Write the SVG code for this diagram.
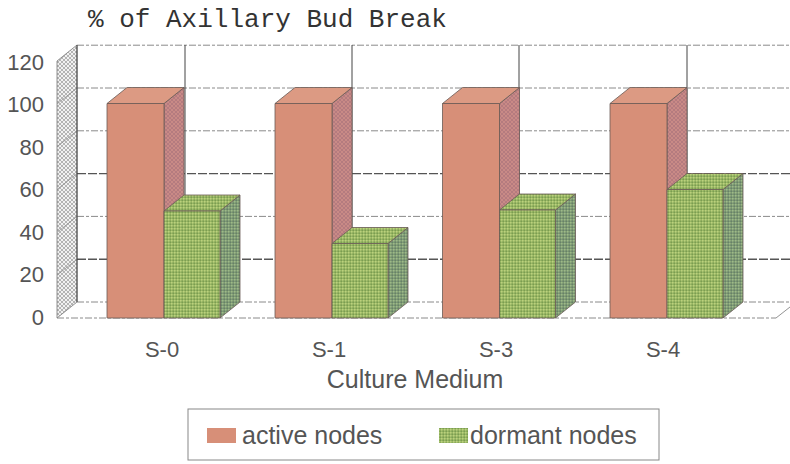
<svg xmlns="http://www.w3.org/2000/svg" width="790" height="464" viewBox="0 0 790 464">
  <style>
    .title { font-family: "Liberation Mono", "Courier New", monospace; font-size: 26px; fill: #333; }
    .lbl { font-family: "Liberation Sans", Arial, sans-serif; font-size: 22px; fill: #555; }
    .axt { font-family: "Liberation Sans", Arial, sans-serif; font-size: 25px; fill: #555; }
    .grid { stroke: #8a8a8a; stroke-width: 1; stroke-dasharray: 7 2 3 2; fill: none; }
    .grid-dark { stroke: #555; stroke-width: 1.4; stroke-dasharray: 9 2; fill: none; }
    .vgrid { stroke: #444; stroke-width: 1; fill: none; }
    .edge { stroke: #6a5a55; stroke-width: 0.8; stroke-linejoin: round; }
    .act-front { fill: #d78f78; }
    .act-top { fill: #dc9a83; }
    .act-side { fill: url(#pinkHatch); }
    .dor-front { fill: url(#greenHatch); }
    .dor-top { fill: url(#greenHatch); }
    .dor-side { fill: url(#greenSideHatch); }
  </style>
  <defs>
    <pattern id="wallHatch" width="4" height="4" patternUnits="userSpaceOnUse">
      <rect width="4" height="4" fill="#f2f2f2"/>
      <path d="M0 4 L4 0 M0 0 L4 4" stroke="#9a9a9a" stroke-width="0.7"/>
    </pattern>
    <pattern id="pinkHatch" width="4" height="4" patternUnits="userSpaceOnUse">
      <rect width="4" height="4" fill="#c98a86"/>
      <path d="M0 4 L4 0 M0 0 L4 4" stroke="#a8707a" stroke-width="0.6"/>
    </pattern>
    <pattern id="greenHatch" width="3" height="3" patternUnits="userSpaceOnUse">
      <rect width="3" height="3" fill="#98b865"/>
      <rect x="0" y="0" width="1.5" height="1.5" fill="#bcd07c"/>
      <rect x="1.5" y="1.5" width="1.5" height="1.5" fill="#7c9c50"/>
    </pattern>
    <pattern id="greenSideHatch" width="3" height="3" patternUnits="userSpaceOnUse">
      <rect width="3" height="3" fill="#7f9c72"/>
      <rect x="0" y="0" width="1.5" height="1.5" fill="#9db88a"/>
      <rect x="1.5" y="1.5" width="1.5" height="1.5" fill="#66806a"/>
    </pattern>
  </defs>

  <rect width="790" height="464" fill="#ffffff"/>

  <text class="title" x="88" y="27">% of Axillary Bud Break</text>

  <!-- walls, floor and gridlines -->
  <g id="axes">
    <polygon points="57,318 57,61 77,45 77,302" fill="url(#wallHatch)" stroke="#777" stroke-width="0.8"/>
    <g stroke="#888" stroke-width="0.7">
      <line x1="57" y1="275.2" x2="77" y2="259.2"/>
      <line x1="57" y1="232.4" x2="77" y2="216.4"/>
      <line x1="57" y1="189.6" x2="77" y2="173.6"/>
      <line x1="57" y1="146.8" x2="77" y2="130.8"/>
      <line x1="57" y1="104" x2="77" y2="88"/>
    </g>
    <line class="grid" x1="77" y1="45.2" x2="790" y2="45.2"/>
    <line class="grid" x1="77" y1="88" x2="790" y2="88"/>
    <line class="grid" x1="77" y1="130.8" x2="790" y2="130.8"/>
    <line class="grid-dark" x1="77" y1="173.6" x2="790" y2="173.6"/>
    <line class="grid" x1="77" y1="216.4" x2="790" y2="216.4"/>
    <line class="grid-dark" x1="77" y1="259.2" x2="790" y2="259.2"/>
    <line class="grid" x1="77" y1="302" x2="790" y2="302"/>
    <line class="vgrid" x1="77" y1="45" x2="77" y2="302"/>
    <line class="vgrid" x1="185" y1="45" x2="185" y2="302"/>
    <line class="vgrid" x1="352" y1="45" x2="352" y2="302"/>
    <line class="vgrid" x1="519" y1="45" x2="519" y2="302"/>
    <line class="vgrid" x1="687" y1="45" x2="687" y2="302"/>
    <!-- floor -->
    <line class="grid" x1="57" y1="318" x2="776" y2="318"/>
    <line x1="776" y1="318" x2="790" y2="307" stroke="#777" stroke-width="0.8"/>
  </g>

  <!-- value axis labels -->
  <g id="y-labels" text-anchor="end">
    <text class="lbl" x="44" y="70">120</text>
    <text class="lbl" x="44" y="112">100</text>
    <text class="lbl" x="44" y="155">80</text>
    <text class="lbl" x="44" y="197">60</text>
    <text class="lbl" x="44" y="240">40</text>
    <text class="lbl" x="44" y="282">20</text>
    <text class="lbl" x="44" y="325">0</text>
  </g>

  <!-- S-0: active 100, dormant 50 -->
  <g id="bars-S0">
    <polygon class="act-side edge" points="164,103.5 184,87.5 184,302 164,318"/>
    <polygon class="act-top edge" points="107,103.5 164,103.5 184,87.5 127,87.5"/>
    <rect class="act-front edge" x="107" y="103.5" width="57" height="214.5"/>
    <polygon class="dor-side edge" points="220,211 240,195 240,302 220,318"/>
    <polygon class="dor-top edge" points="164,211 220,211 240,195 184,195"/>
    <rect class="dor-front edge" x="164" y="211" width="56" height="107"/>
  </g>

  <!-- S-1: active 100, dormant 35 -->
  <g id="bars-S1">
    <polygon class="act-side edge" points="332,103.5 352,87.5 352,302 332,318"/>
    <polygon class="act-top edge" points="275,103.5 332,103.5 352,87.5 295,87.5"/>
    <rect class="act-front edge" x="275" y="103.5" width="57" height="214.5"/>
    <polygon class="dor-side edge" points="388,243.5 408,227.5 408,302 388,318"/>
    <polygon class="dor-top edge" points="332,243.5 388,243.5 408,227.5 352,227.5"/>
    <rect class="dor-front edge" x="332" y="243.5" width="56" height="74.5"/>
  </g>

  <!-- S-3: active 100, dormant 50 -->
  <g id="bars-S3">
    <polygon class="act-side edge" points="499.5,103.5 519.5,87.5 519.5,302 499.5,318"/>
    <polygon class="act-top edge" points="442.5,103.5 499.5,103.5 519.5,87.5 462.5,87.5"/>
    <rect class="act-front edge" x="442.5" y="103.5" width="57" height="214.5"/>
    <polygon class="dor-side edge" points="555.5,210 575.5,194 575.5,302 555.5,318"/>
    <polygon class="dor-top edge" points="499.5,210 555.5,210 575.5,194 519.5,194"/>
    <rect class="dor-front edge" x="499.5" y="210" width="56" height="108"/>
  </g>

  <!-- S-4: active 100, dormant 60 -->
  <g id="bars-S4">
    <polygon class="act-side edge" points="667,103.5 687,87.5 687,302 667,318"/>
    <polygon class="act-top edge" points="610,103.5 667,103.5 687,87.5 630,87.5"/>
    <rect class="act-front edge" x="610" y="103.5" width="57" height="214.5"/>
    <polygon class="dor-side edge" points="723,189.5 743,173.5 743,302 723,318"/>
    <polygon class="dor-top edge" points="667,189.5 723,189.5 743,173.5 687,173.5"/>
    <rect class="dor-front edge" x="667" y="189.5" width="56" height="128.5"/>
  </g>

  <!-- category axis -->
  <g id="x-labels" text-anchor="middle">
    <text class="lbl" x="162" y="357">S-0</text>
    <text class="lbl" x="329" y="357">S-1</text>
    <text class="lbl" x="496" y="357">S-3</text>
    <text class="lbl" x="663" y="357">S-4</text>
    <text class="axt" x="415" y="388">Culture Medium</text>
  </g>

  <!-- legend -->
  <g id="legend">
    <rect x="188" y="409" width="471" height="51" fill="#ffffff" stroke="#888" stroke-width="1"/>
    <rect x="207" y="428" width="29" height="15" fill="#d78f78"/>
    <text class="axt" x="242" y="444">active nodes</text>
    <rect x="439" y="428" width="29" height="15" fill="url(#greenHatch)"/>
    <text class="axt" x="470" y="444">dormant nodes</text>
  </g>
</svg>
